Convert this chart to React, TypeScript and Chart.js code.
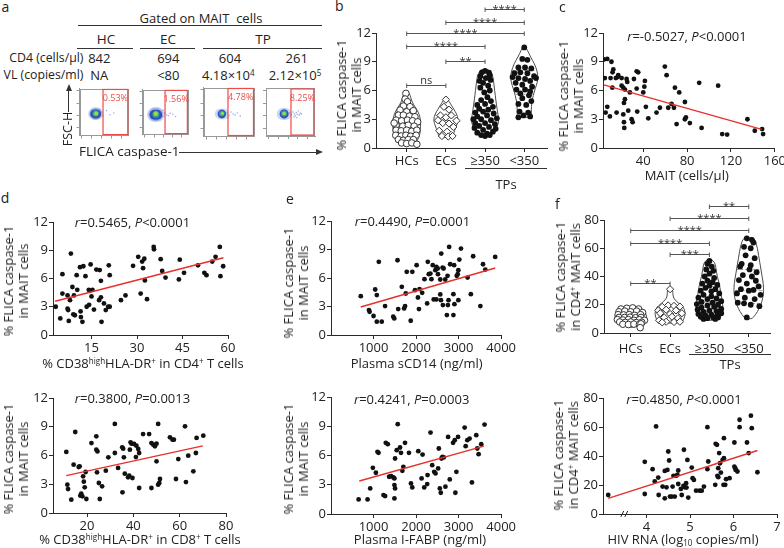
import React, { useEffect, useRef } from "react";
import { Chart, registerables } from "chart.js";

Chart.register(...registerables);

const FONT = "'Open Sans', 'Noto Sans', 'DejaVu Sans', sans-serif";
const INK = "#222222";
const AXIS = "#2b2b2b";
const RED = "#e8302a";

type Pt = [number, number];
type Bub = [number, number, number];

// ---------------- Panel a (flow plots) ----------------
const flowGroups = ["HC", "EC", "TP"];
const flowCD4 = ["842", "694", "604", "261"];
const flowVL = ["NA", "<80", "4.18×10^4", "2.12×10^5"];
const flowPercents = ["0.53%", "1.56%", "4.78%", "8.25%"];
const flowGates: number[][] = [
  [48, 98.5, 2, 98],
  [49, 97.5, 2, 98],
  [48, 98, 2, 98],
  [51, 97.5, 2, 98],
];
const flowHalo: Bub[][] = [
  [[30, 46, 6], [36, 46, 6], [33, 47, 6.5]],
  [[25, 44, 7], [33, 44, 7], [29, 45, 7.5]],
  [[33, 46, 5.5], [39, 46, 5.5]],
  [[34, 46, 6], [40, 46, 6]],
];
const flowBlue: Bub[][] = [
  [[31, 46, 4.5], [35, 46, 4.5]],
  [[26, 44, 5], [32, 44, 5]],
  [[36, 46, 4.2]],
  [[37, 46, 4.5]],
];
const flowTeal: Bub[][] = [[[33, 47, 3.2]], [[29, 45, 3.5]], [[36, 47, 2.8]], [[37, 47, 3]]];
const flowGreen: Bub[][] = [[[34, 47, 2]], [[29, 46, 2.2]], [[37, 47, 1.6]], [[37, 47, 1.8]]];
const flowSparse: Pt[][] = [
  [[44, 50], [48, 42], [55, 53], [62, 44], [70, 48], [40, 38], [42, 56]],
  [[40, 46], [44, 40], [48, 48], [52, 44], [56, 42], [60, 47], [66, 45], [72, 40], [45, 54]],
  [[46, 48], [50, 43], [54, 50], [58, 46], [62, 44], [48, 38], [66, 48], [72, 42]],
  [[48, 48], [52, 44], [55, 50], [58, 46], [60, 42], [62, 49], [64, 45], [66, 52], [68, 44], [70, 48], [57, 40], [63, 38], [72, 46]],
];
const flowYTicks = [16, 43, 68, 95];
const flowXTicks = [5, 25, 45, 65, 85];

// ---------------- Panel b (violin) ----------------
const violinCategories = ["HCs", "ECs", "≥350", "<350"];
const bHCs: Pt[] = [[-0.02,5.70],[-0.04,5.11],[0.02,4.83],[-0.085,4.38],[0.085,4.31],[-0.17,3.96],[0,3.78],[0.17,3.89],[-0.21,3.43],[-0.085,3.43],[0.07,3.33],[0.21,3.26],[-0.27,2.91],[-0.13,2.84],[0.02,2.91],[0.15,2.84],[0.28,2.73],[-0.27,2.38],[-0.10,2.28],[0.04,2.38],[0.19,2.28],[-0.27,1.86],[-0.14,1.79],[0,1.86],[0.13,1.75],[0.26,1.86],[-0.28,1.33],[-0.14,1.26],[-0.02,1.33],[0.10,1.23],[0.24,1.33],[-0.21,0.88],[-0.085,0.81],[0.04,0.88],[0.17,0.88],[-0.13,0.53],[0,0.46],[0.13,0.53],[0.26,0.39],[-0.32,2.60]];
const bECs: Pt[] = [[0,5.05],[-0.05,4.3],[0.08,4.0],[-0.14,3.4],[0.14,3.4],[0,3.2],[-0.2,2.9],[0.27,2.85],[-0.08,2.6],[0.08,2.55],[0.19,2.2],[-0.17,1.8],[0.03,1.7],[-0.1,1.25],[0.06,1.2],[0.17,1.25]];
const bTPhigh: Pt[] = [[0,8.05],[-0.08,7.9],[0.1,7.85],[-0.12,7.5],[0.12,7.6],[0.02,7.3],[-0.14,7.0],[0.14,7.1],[-0.05,6.8],[0.08,6.5],[-0.12,6.3],[0.12,6.0],[-0.02,5.8],[0.06,5.3],[-0.1,5.0],[0.15,4.9],[-0.2,4.5],[0,4.6],[0.2,4.3],[-0.15,4.1],[0.08,4.0],[-0.25,3.7],[-0.05,3.8],[0.22,3.6],[-0.2,3.3],[0.05,3.4],[0.3,3.1],[-0.3,3.0],[-0.1,3.0],[0.15,2.9],[-0.25,2.6],[0,2.6],[0.25,2.5],[-0.15,2.3],[0.1,2.2],[-0.27,2.1],[0.27,2.0],[-0.05,1.9],[0.2,1.7],[-0.2,1.6],[0.05,1.5],[-0.1,1.35],[0.12,1.35],[0,1.25]];
const bTPlow: Pt[] = [[0,10.5],[-0.05,9.3],[0.08,9.2],[-0.15,8.4],[0.02,8.4],[0.18,8.3],[-0.25,7.8],[-0.1,7.9],[0.08,7.8],[0.25,7.5],[-0.3,7.4],[-0.15,7.3],[0.02,7.2],[0.15,7.0],[0.3,7.3],[-0.22,6.8],[-0.05,6.6],[0.2,6.4],[-0.2,6.1],[0.02,6.1],[0.15,5.9],[-0.1,5.7],[0.12,5.5],[-0.05,5.2],[0.18,4.9],[-0.15,4.6],[0.05,4.5],[-0.12,3.8],[0.1,3.7],[-0.02,3.4],[0.15,3.3],[-0.15,3.2]];
// violin outlines: [value, half-width in category units]
const bProfiles: Pt[][] = [
  [[0.4,0.12],[0.6,0.24],[1.0,0.3],[1.5,0.34],[2.0,0.35],[2.5,0.355],[3.0,0.35],[3.5,0.32],[4.0,0.26],[4.5,0.18],[5.0,0.12],[5.5,0.09],[5.95,0.03]],
  [[1.1,0.18],[1.4,0.19],[1.8,0.22],[2.3,0.27],[2.8,0.31],[3.3,0.3],[3.8,0.24],[4.2,0.18],[4.6,0.12],[5.0,0.06],[5.15,0.02]],
  [[1.2,0.04],[1.3,0.12],[1.6,0.22],[2.2,0.31],[2.8,0.35],[3.5,0.33],[4.5,0.29],[5.5,0.26],[6.5,0.23],[7.5,0.2],[8.05,0.14],[8.2,0.04]],
  [[3.2,0.18],[3.3,0.18],[4.0,0.18],[4.7,0.19],[5.5,0.23],[6.2,0.28],[6.8,0.33],[7.4,0.35],[8.0,0.33],[8.8,0.26],[9.5,0.16],[10.2,0.08],[10.6,0.03]],
];
const bQuartiles: number[][] = [[1.3, 2.4, 3.5], [1.7, 2.85, 3.4], [2.5, 3.8, 6.5], [5.6, 7.2, 8.1]];
const bBrackets: [number, number, number, string][] = [
  [1, 2, 6.6, "ns"], [2, 3, 9.1, "**"], [1, 3, 10.6, "****"], [1, 4, 11.95, "****"], [2, 4, 13.2, "****"], [3, 4, 14.5, "****"],
];
const tick0to12 = [0, 3, 6, 9, 12];

// ---------------- Panel c ----------------
const cPoints: Pt[] = [[4.2,9.24],[7.2,9.3],[11,9.0],[12.7,8.2],[12,7.9],[5,7.3],[10.2,7.3],[15,7.3],[17.2,7.6],[20.3,7.3],[11.8,6.3],[20.3,6.5],[21.8,6.3],[24.8,7.2],[25.4,6.9],[23.3,6.1],[27.8,5.8],[31.5,7.2],[34,8.0],[35.4,7.9],[34,6.2],[41.5,7.0],[41,6.4],[40,5.8],[23.3,5.1],[22.4,4.7],[7.2,4.3],[5.7,3.7],[9.6,3.3],[15.7,3.7],[21.8,3.5],[22.4,2.7],[22.7,2.1],[26.3,3.9],[29.4,3.0],[30.3,2.7],[34.5,3.8],[42.4,4.3],[44.6,3.1],[52.1,3.7],[55.2,4.2],[59.7,8.5],[61.3,7.6],[62.8,4.2],[65.8,4.6],[68,4.2],[68.9,6.3],[70.4,2.5],[72.8,5.8],[78,4.8],[78.9,3.2],[78,3.0],[82.5,2.6],[91,6.8],[93.2,2.1],[108.3,6.5],[112,1.45],[116.5,1.4],[135,3.0],[141.7,1.8],[148.4,1.97],[149.3,1.45],[16.6,7.4]];
const cFit: Pt[] = [[4, 6.58], [148, 1.95]];
const cXTicks = [40, 80, 120, 160];

// ---------------- Panel d ----------------
const d1Points: Pt[] = [[3.2,3.0],[4.7,1.76],[5.4,6.46],[5.4,4.4],[7.1,4.2],[7.1,2.8],[7.3,2.65],[7.5,1.5],[7.9,3.7],[8.2,8.65],[8.7,5.1],[9.0,2.2],[9.5,2.1],[9.2,4.2],[10.3,4.8],[10.1,6.35],[11.2,7.2],[11.4,2.5],[11.5,1.9],[12.0,1.4],[12.3,7.3],[13.0,6.25],[13.4,3.0],[14.1,4.8],[14.2,3.2],[14.7,7.5],[14.4,4.7],[15.0,4.1],[15.3,4.8],[15.8,2.7],[16.6,6.95],[17.5,3.7],[17.7,6.9],[18.1,5.75],[18.1,4.0],[18.3,1.4],[19.1,3.35],[19.7,2.65],[20.7,7.4],[21.0,6.35],[20.5,3.0],[21.0,3.0],[24.7,3.7],[26.2,4.2],[28.7,7.35],[30.4,8.3],[31.2,4.4],[31.7,7.8],[32,7.1],[32.4,8.1],[32.6,5.8],[33.3,3.8],[35.5,9.35],[35.6,9.1],[37.8,8.05],[38.3,6.8],[39.4,6.1],[43.8,5.9],[44.1,8.0],[45.5,6.6],[50.1,7.4],[52.2,6.6],[52.9,6.35],[54.8,7.8],[55.9,8.3],[57.3,9.35],[57.5,6.25],[58.4,7.3]];
const d1Fit: Pt[] = [[3, 3.58], [58.5, 8.2]];
const d1XTicks = [15, 30, 45, 60];
const d2Points: Pt[] = [[11.05,6.37],[11.5,2.96],[11.8,2.5],[13.2,1.39],[14.2,5.04],[14.9,8.45],[16.4,4.8],[16.8,4.87],[17.1,1.81],[17.5,2.02],[18.0,1.74],[18.3,3.83],[18.6,3.27],[19.0,2.68],[19.4,4.28],[19.7,1.46],[21.9,7.3],[24.0,8.0],[24.0,6.61],[24.5,6.43],[24.3,4.24],[25.1,3.13],[26.5,2.78],[25.5,1.46],[28.1,4.42],[29.2,5.81],[32.0,9.29],[32.0,6.26],[33.4,4.7],[35.2,6.85],[35.6,6.71],[35.3,2.16],[35.9,5.81],[36.3,4.1],[37.7,3.72],[38.2,3.9],[38.5,6.61],[38.8,7.37],[39.2,7.23],[39.6,3.65],[40.3,7.2],[41.1,5.84],[41.3,7.03],[42.1,6.68],[42.5,6.26],[42.5,2.61],[44.2,8.24],[46.8,8.24],[47.8,7.3],[47.8,2.61],[48.6,7.13],[49.3,6.96],[50.0,7.23],[50.0,5.39],[50.7,9.29],[50.7,2.96],[51.2,3.13],[51.5,3.55],[55.8,7.9],[56.9,7.65],[57.5,7.65],[58.4,3.55],[59.4,5.63],[62.3,9.04],[62.7,3.23],[63.7,5.98],[65.9,4.35],[67.0,6.26],[67.3,7.83],[70.2,8.07]];
const d2Fit: Pt[] = [[11, 3.9], [70, 7.0]];
const d2XTicks = [20, 40, 60, 80];

// ---------------- Panel e ----------------
const e1Points: Pt[] = [[700,4.09],[892,2.62],[907,2.45],[1000,2.0],[1039,4.79],[1077,4.2],[1077,1.4],[1124,7.7],[1193,1.4],[1271,3.04],[1464,1.92],[1487,1.75],[1564,7.87],[1580,2.73],[1665,5.07],[1719,2.8],[1742,3.04],[1758,4.37],[1781,6.65],[1874,1.5],[1912,6.65],[1974,4.72],[2013,7.35],[2044,3.95],[2082,4.83],[2067,2.73],[2144,4.44],[2198,5.88],[2260,3.32],[2276,7.7],[2299,6.4],[2337,6.47],[2361,5.88],[2392,7.35],[2415,3.74],[2453,6.82],[2477,3.74],[2477,7.17],[2508,7.0],[2515,6.4],[2569,5.84],[2569,4.27],[2585,3.67],[2592,8.57],[2624,7.1],[2647,7.0],[2631,3.15],[2685,5.84],[2724,2.1],[2740,6.23],[2748,3.15],[2778,9.27],[2763,3.67],[2801,7.45],[2878,4.3],[2878,2.1],[2902,3.25],[2894,7.35],[2956,6.23],[2979,6.4],[2994,6.82],[2994,3.67],[3018,7.94],[3056,9.1],[3211,6.05],[3288,4.3],[3342,8.29],[3512,3.04],[3574,7.45],[3628,6.89],[3860,8.22]];
const e1Fit: Pt[] = [[700, 2.95], [3860, 7.05]];
const e2Points: Pt[] = [[649,1.5],[860,1.5],[922,2.62],[984,4.74],[1055,4.23],[1093,6.38],[1117,6.27],[1234,1.94],[1273,1.84],[1288,7.3],[1335,7.16],[1366,3.82],[1413,3.89],[1467,3.75],[1491,3.65],[1491,2.97],[1506,2.62],[1491,1.6],[1506,5.69],[1545,6.55],[1569,9.21],[1623,6.82],[1646,6.27],[1678,4.43],[1701,4.84],[1740,7.3],[1833,6.27],[1880,3.14],[1911,2.73],[2052,6.44],[2130,3.65],[2153,6.1],[2192,2.73],[2262,3.07],[2270,3.99],[2340,8.35],[2379,5.01],[2426,4.33],[2457,4.16],[2519,4.67],[2535,6.72],[2558,2.62],[2581,2.18],[2597,5.69],[2620,5.86],[2651,5.8],[2690,2.8],[2753,7.91],[2792,3.55],[2870,7.3],[2909,7.57],[2924,2.18],[2948,4.33],[2987,7.91],[3142,8.86],[3166,6.96],[3205,7.57],[3259,7.74],[3314,3.24],[3415,8.08],[3439,6.72],[3470,6.14],[3532,7.16],[3610,9.17]];
const e2Fit: Pt[] = [[665, 3.38], [3594, 6.96]];
const eXTicks = [1000, 2000, 3000, 4000];

// ---------------- Panel f ----------------
const fHCs: Pt[] = [[-0.25,17],[-0.1,17.5],[0.05,17.8],[0.2,17],[-0.3,15],[-0.15,15.5],[0,15],[0.15,15.5],[0.3,14.5],[-0.32,13],[-0.18,12.8],[-0.04,13],[0.1,12.5],[0.25,13],[-0.3,11],[-0.16,11],[-0.02,11.2],[0.12,10.8],[0.26,11],[-0.34,9.5],[-0.2,9.2],[-0.06,9.5],[0.08,9],[0.22,9.4],[0.35,9],[-0.28,7.8],[-0.14,7.5],[0,7.8],[0.14,7.4],[0.28,7.6],[-0.2,6.2],[-0.06,6],[0.08,6.3],[0.22,6],[0.26,6.5],[0.24,3.8]];
const fECs: Pt[] = [[0,31],[-0.05,19.5],[0.1,19.2],[0.25,18.7],[-0.2,18.5],[-0.3,16],[-0.1,16.5],[0.15,16],[0.3,14],[-0.25,14],[0,13.5],[-0.15,11],[0.05,11.5],[0.2,10.5],[-0.28,9],[-0.1,8],[0.1,7.8],[0.25,8],[-0.2,7.5]];
const fTPhigh: Pt[] = [[0,51],[-0.05,49],[0.06,47],[-0.08,45],[0.1,44],[0,42],[-0.12,40],[0.12,39],[-0.05,37],[0.08,36],[-0.18,35],[0.2,34],[0,33.5],[-0.1,32],[0.15,31],[-0.22,30],[0.05,29.5],[0.25,28],[-0.15,27],[0.05,26],[-0.28,25],[0.18,24.5],[-0.05,24],[0.3,22.5],[-0.2,22],[0.08,21.5],[-0.32,20.5],[0.22,20],[-0.05,19.5],[0.12,18.5],[-0.2,18],[0.3,17],[-0.3,16.5],[0,16],[0.18,15.5],[-0.15,15],[0.3,14],[-0.28,13.5],[0.05,13],[0.2,12.5],[-0.1,12.5],[-0.22,11.5],[0.1,11],[0.22,11],[-0.05,10.5],[0.15,10],[-0.15,10]];
const fTPlow: Pt[] = [[-0.05,67],[0.08,66],[0.12,64],[-0.12,61],[0.05,60],[-0.08,55],[0.15,53],[-0.18,49],[0.05,48],[-0.22,47],[0.02,45],[0.2,43],[-0.15,41],[0.08,40],[-0.25,37.5],[0.18,37],[-0.05,35],[0.25,33],[-0.2,31],[0,30],[0.12,30.5],[-0.3,28],[0.3,27],[-0.1,25],[0.15,24],[-0.28,21.5],[-0.12,21],[0.05,20],[0.27,19],[-0.05,11]];
const fProfiles: Pt[][] = [
  [[4.0,0.06],[5.5,0.24],[7,0.36],[9,0.41],[12,0.4],[15,0.37],[17,0.31],[18.2,0.12]],
  [[7,0.3],[9,0.33],[12,0.38],[15,0.38],[18,0.35],[21,0.22],[24,0.1],[27,0.07],[30,0.07],[31.5,0.04]],
  [[9,0.1],[10,0.2],[12,0.3],[15,0.34],[20,0.34],[25,0.31],[30,0.28],[35,0.25],[40,0.2],[45,0.17],[50,0.14],[52,0.05]],
  [[10,0.06],[11,0.12],[15,0.22],[20,0.31],[25,0.36],[30,0.38],[35,0.37],[40,0.34],[45,0.31],[50,0.28],[55,0.25],[60,0.22],[65,0.17],[67.5,0.12]],
];
const fQuartiles: number[][] = [[7.5, 10, 14], [9, 15, 18], [15, 22, 33], [21, 30, 45]];
const fBrackets: [number, number, number, string][] = [
  [1, 2, 35.6, "**"], [2, 3, 55.7, "***"], [1, 3, 63.9, "****"], [1, 4, 72.9, "****"], [2, 4, 81.2, "****"], [3, 4, 90.1, "**"],
];
const tick0to80 = [0, 20, 40, 60, 80];
const f2Points: Pt[] = [[3.12,13.1],[3.96,13.8],[3.96,36.0],[4.14,30.9],[4.19,22.4],[4.22,60.4],[4.27,25.1],[4.28,13.1],[4.37,18.9],[4.42,29.7],[4.42,10.8],[4.46,18.4],[4.48,30.4],[4.5,43.1],[4.52,36.9],[4.54,12.0],[4.58,12.0],[4.6,18.9],[4.62,26.3],[4.65,12.0],[4.68,26.3],[4.71,27.0],[4.73,30.0],[4.73,20.7],[4.79,17.3],[4.81,13.1],[4.85,19.4],[4.86,44.3],[4.88,18.4],[4.91,21.2],[4.92,18.2],[4.94,37.3],[4.96,11.3],[5.04,32.0],[5.06,24.7],[5.09,23.5],[5.14,16.1],[5.22,16.1],[5.27,16.1],[5.32,18.9],[5.4,59.9],[5.4,30.9],[5.42,36.2],[5.58,20.1],[5.59,48.4],[5.62,47.7],[5.63,26.3],[5.65,31.6],[5.65,25.4],[5.67,42.0],[5.69,35.0],[5.71,28.6],[5.75,37.3],[5.77,20.1],[5.78,52.3],[5.78,38.5],[5.81,20.1],[5.83,24.0],[5.91,24.7],[6.02,49.3],[6.02,32.7],[6.04,31.6],[6.05,30.4],[6.09,29.3],[6.14,65.0],[6.14,59.9],[6.31,49.3],[6.35,42.0],[6.4,67.8],[6.42,59.2],[6.55,28.8]];
const f2Fit: Pt[] = [[3.12, 10.8], [6.55, 43.8]];
const f2XTicks = [4, 5, 6, 7];
const f2BreakAt = 3.5;

// ---------------- helpers ----------------
type Frame = { left: number; top: number; width: number; height: number; padTop: number; padRight: number; yW: number; xH: number };
function frame(L: number, R: number, T: number, B: number, padTop = 12, padRight = 12, yW = 44, xH = 26): Frame {
  const l = Math.round(L), t = Math.round(T), r = Math.round(R), b = Math.round(B);
  return { left: l - yW, top: t - padTop, width: r - l + yW + padRight, height: b - t + padTop + xH, padTop, padRight, yW, xH };
}

function linAxis(o: { min: number; max: number; ticks: number[]; isX: boolean; size: number; labels?: string[]; pad?: number; color?: string; show?: boolean; tickLen?: number; fontSize?: number }) {
  const color = o.color || AXIS;
  return {
    type: "linear",
    min: o.min,
    max: o.max,
    afterBuildTicks: (s: any) => { s.ticks = o.ticks.map((v) => ({ value: v })); },
    afterFit: (s: any) => { if (o.isX) s.height = o.size; else s.width = o.size; },
    grid: { display: true, drawOnChartArea: false, drawTicks: true, tickLength: o.tickLen ?? 4, color, lineWidth: 1 },
    border: { display: true, color, width: 1 },
    ticks: {
      display: o.show !== false,
      color: INK,
      font: { family: FONT, size: o.fontSize || 13 },
      padding: o.pad ?? 1,
      autoSkip: false,
      maxRotation: 0,
      minRotation: 0,
      callback: (v: number, i: number) => (o.labels ? o.labels[i] : String(v)),
    },
  };
}

function baseOptions(f: Frame, x: any, y: any) {
  return {
    responsive: false,
    animation: false,
    devicePixelRatio: 1,
    events: [],
    layout: { padding: { top: f.padTop, right: f.padRight, left: 0, bottom: 0 } },
    plugins: { legend: { display: false }, tooltip: { enabled: false } },
    scales: { x, y },
  };
}

function scatterConfig(f: Frame, pts: Pt[], fit: Pt[], xMin: number, xMax: number, xTicks: number[], yMax: number, yTicks: number[], extra: any[] = []) {
  return {
    type: "scatter",
    data: {
      datasets: [
        { data: fit.map(([x, y]) => ({ x, y })), showLine: true, borderColor: RED, borderWidth: 1.4, pointRadius: 0 },
        { data: pts.map(([x, y]) => ({ x, y })), pointRadius: 2.4, pointBackgroundColor: "#111", pointBorderWidth: 0, showLine: false },
      ],
    },
    options: baseOptions(
      f,
      linAxis({ min: xMin, max: xMax, ticks: xTicks, isX: true, size: f.xH }),
      linAxis({ min: 0, max: yMax, ticks: yTicks, isX: false, size: f.yW })
    ),
    plugins: extra,
  };
}

function interp(prof: Pt[], v: number) {
  if (v <= prof[0][0]) return prof[0][1];
  for (let i = 1; i < prof.length; i++) {
    if (v <= prof[i][0]) {
      const [a, wa] = prof[i - 1], [b, wb] = prof[i];
      return wa + ((v - a) / (b - a)) * (wb - wa);
    }
  }
  return prof[prof.length - 1][1];
}

function violinPlugin(profiles: Pt[][], quarts: number[][]) {
  return {
    id: "violins",
    beforeDatasetsDraw(chart: any) {
      const xs = chart.scales.x, ys = chart.scales.y, ctx = chart.ctx;
      const unit = xs.getPixelForValue(1) - xs.getPixelForValue(0);
      profiles.forEach((prof, i) => {
        const cx = xs.getPixelForValue(i + 1);
        const right = prof.map(([v, w]) => [cx + w * unit, ys.getPixelForValue(v)]);
        const left = prof.slice().reverse().map(([v, w]) => [cx - w * unit, ys.getPixelForValue(v)]);
        const p = [...right, ...left];
        const n = p.length;
        const mid = (a: number[], b: number[]) => [(a[0] + b[0]) / 2, (a[1] + b[1]) / 2];
        ctx.save();
        ctx.beginPath();
        const s = mid(p[n - 1], p[0]);
        ctx.moveTo(s[0], s[1]);
        for (let k = 0; k < n; k++) {
          const m = mid(p[k], p[(k + 1) % n]);
          ctx.quadraticCurveTo(p[k][0], p[k][1], m[0], m[1]);
        }
        ctx.closePath();
        ctx.fillStyle = "#ffffff";
        ctx.fill();
        ctx.strokeStyle = "#4a4a4a";
        ctx.lineWidth = 1;
        ctx.stroke();
        quarts[i].forEach((q, k) => {
          const w = interp(prof, q) * unit * 0.95;
          const y = ys.getPixelForValue(q);
          ctx.setLineDash(k === 1 ? [4, 2] : [2, 2]);
          ctx.strokeStyle = "#9a9a9a";
          ctx.beginPath();
          ctx.moveTo(cx - w, y);
          ctx.lineTo(cx + w, y);
          ctx.stroke();
        });
        ctx.restore();
      });
    },
  };
}

function bracketPlugin(brackets: [number, number, number, string][]) {
  return {
    id: "brackets",
    afterDatasetsDraw(chart: any) {
      const xs = chart.scales.x, ys = chart.scales.y, ctx = chart.ctx;
      ctx.save();
      ctx.strokeStyle = "#555";
      ctx.fillStyle = "#333";
      ctx.lineWidth = 1;
      brackets.forEach(([a, b, v, label]) => {
        const x1 = xs.getPixelForValue(a), x2 = xs.getPixelForValue(b);
        const y = Math.round(ys.getPixelForValue(v)) + 0.5;
        ctx.beginPath();
        ctx.moveTo(x1, y); ctx.lineTo(x2, y);
        ctx.moveTo(x1, y - 2); ctx.lineTo(x1, y + 2.5);
        ctx.moveTo(x2, y - 2); ctx.lineTo(x2, y + 2.5);
        ctx.stroke();
        ctx.textAlign = "center";
        ctx.textBaseline = "alphabetic";
        ctx.font = `11px ${FONT}`;
        if (label === "ns") ctx.fillText(label, (x1 + x2) / 2, y - 2);
        else ctx.fillText(label, (x1 + x2) / 2, y + 3);
      });
      ctx.restore();
    },
  };
}

function violinConfig(f: Frame, groups: Pt[][], styles: any[], profiles: Pt[][], quarts: number[][], brackets: any[], xMin: number, xMax: number, yMax: number, yTicks: number[], xPad: number) {
  return {
    type: "scatter",
    data: {
      datasets: groups.map((g, i) => ({
        data: g.map(([j, v]) => ({ x: i + 1 + j, y: v })),
        showLine: false,
        ...styles[i],
      })),
    },
    options: baseOptions(
      f,
      linAxis({ min: xMin, max: xMax, ticks: [1, 2, 3, 4], labels: violinCategories, isX: true, size: f.xH, pad: xPad }),
      linAxis({ min: 0, max: yMax, ticks: yTicks, isX: false, size: f.yW })
    ),
    plugins: [violinPlugin(profiles, quarts), bracketPlugin(brackets)],
  };
}

const openCircle = { pointStyle: "circle", pointRadius: 3.3, pointBackgroundColor: "#fff", pointBorderColor: "#333", pointBorderWidth: 1 };
const openDiamond = { pointStyle: "rectRot", pointRadius: 3.6, pointBackgroundColor: "#fff", pointBorderColor: "#333", pointBorderWidth: 1 };
const solidDot = { pointStyle: "circle", pointRadius: 2.9, pointBackgroundColor: "#111", pointBorderWidth: 0 };

function flowConfig(f: Frame, i: number) {
  const bub = (arr: Bub[]) => arr.map(([x, y, r]) => ({ x, y, r }));
  return {
    type: "bubble",
    data: {
      datasets: [
        { data: bub(flowGreen[i]), backgroundColor: "#a8d640", borderWidth: 0 },
        { data: bub(flowTeal[i]), backgroundColor: "#2fa59a", borderWidth: 0 },
        { data: bub(flowBlue[i]), backgroundColor: "#2f4fbf", borderWidth: 0 },
        { data: bub(flowHalo[i]), backgroundColor: "rgba(110,140,215,0.35)", borderWidth: 0 },
        { data: flowSparse[i].map(([x, y]) => ({ x, y, r: 0.8 })), backgroundColor: "rgba(90,110,200,0.55)", borderWidth: 0 },
      ],
    },
    options: baseOptions(
      f,
      linAxis({ min: 0, max: 100, ticks: flowXTicks, isX: true, size: f.xH, color: "#999", show: false, tickLen: 3 }),
      linAxis({ min: 0, max: 100, ticks: flowYTicks, isX: false, size: f.yW, color: "#999", show: false, tickLen: 3 })
    ),
    plugins: [
      {
        id: "gate",
        afterDatasetsDraw(chart: any) {
          const xs = chart.scales.x, ys = chart.scales.y, ctx = chart.ctx, ca = chart.chartArea;
          ctx.save();
          ctx.strokeStyle = "#999";
          ctx.lineWidth = 1;
          ctx.strokeRect(Math.round(ca.left) + 0.5, Math.round(ca.top) + 0.5, Math.round(ca.right - ca.left) - 1, Math.round(ca.bottom - ca.top) - 1);
          const [x0, x1, y0, y1] = flowGates[i];
          const px0 = xs.getPixelForValue(x0), px1 = xs.getPixelForValue(x1);
          const py0 = ys.getPixelForValue(y1), py1 = ys.getPixelForValue(y0);
          ctx.strokeStyle = "#ee4b47";
          ctx.lineWidth = 1.2;
          ctx.strokeRect(px0, py0, px1 - px0, py1 - py0);
          ctx.fillStyle = "#ee4b47";
          ctx.font = `9px ${FONT}`;
          ctx.textAlign = "center";
          ctx.textBaseline = "middle";
          ctx.fillText(flowPercents[i], (px0 + px1) / 2, py0 + 9);
          ctx.restore();
        },
      },
    ],
  };
}

function breakPlugin(at: number) {
  return {
    id: "axisBreak",
    afterDraw(chart: any) {
      const ctx = chart.ctx;
      const x = chart.scales.x.getPixelForValue(at);
      const y = chart.chartArea.bottom;
      ctx.save();
      ctx.strokeStyle = AXIS;
      ctx.lineWidth = 1;
      ctx.beginPath();
      ctx.moveTo(x - 4, y + 3); ctx.lineTo(x - 1, y - 3);
      ctx.moveTo(x, y + 3); ctx.lineTo(x + 3, y - 3);
      ctx.stroke();
      ctx.restore();
    },
  };
}

function ChartBox({ f, make }: { f: Frame; make: (f: Frame) => any }) {
  const ref = useRef<HTMLCanvasElement>(null);
  useEffect(() => {
    const chart = new Chart(ref.current as HTMLCanvasElement, make(f));
    return () => chart.destroy();
  }, []);
  return (
    <canvas
      ref={ref}
      width={f.width}
      height={f.height}
      style={{ position: "absolute", left: f.left, top: f.top, width: f.width, height: f.height }}
    />
  );
}

function Txt({ x, y, children, size = 13, anchor = "center", rot = 0, color = INK, lh = 1.15 }: any) {
  const tx = anchor === "left" ? "0" : anchor === "right" ? "-100%" : "-50%";
  return (
    <div
      style={{
        position: "absolute",
        left: x,
        top: y,
        transform: `translate(${tx},-50%) rotate(${rot}deg)`,
        fontFamily: FONT,
        fontSize: size,
        color,
        whiteSpace: "nowrap",
        lineHeight: lh,
        textAlign: "center",
      }}
    >
      {children}
    </div>
  );
}

function HLine({ x1, x2, y, color = "#333" }: any) {
  return <div style={{ position: "absolute", left: x1, top: y, width: x2 - x1, height: 0, borderTop: `1px solid ${color}` }} />;
}

const sup = (t: string) => <span style={{ fontSize: "0.62em", verticalAlign: "0.5em", lineHeight: 0 }}>{t}</span>;
const sub = (t: string) => <span style={{ fontSize: "0.62em", verticalAlign: "-0.25em", lineHeight: 0 }}>{t}</span>;
const powText = (s: string) => {
  const [a, b] = s.split("^");
  return b ? <>{a}{sup(b)}</> : <>{a}</>;
};

function YTitle({ x, y, l1, l2 }: any) {
  return (
    <Txt x={x} y={y} rot={-90} lh="15px" size={13}>
      {l1}
      <br />
      {l2}
    </Txt>
  );
}

function RText({ x, y, r, p }: any) {
  return (
    <Txt x={x} y={y} size={13}>
      <i>r</i>={r}, <i>P</i>{p}
    </Txt>
  );
}

// geometry (page pixels)
const flowBoxes: number[][] = [[77.7, 132.7], [140, 194.3], [202.7, 257.7], [265.3, 319.3]];
const fB = frame(376, 547, 33.3, 148, 31, 12);
const fC = frame(603, 775, 33.3, 148, 12, 12);
const fD1 = frame(53.3, 228.3, 221.7, 335, 12, 12);
const fD2 = frame(53.3, 226, 398.3, 513.3, 12, 12);
const fE1 = frame(331, 503.3, 220.7, 335, 12, 14);
const fE2 = frame(331, 503.3, 396.7, 514, 12, 14);
const fF1 = frame(604, 770, 220, 333, 24, 14);
const fF2 = frame(603, 776.7, 398.3, 514, 12, 8);

export default function App() {
  return (
    <div style={{ position: "fixed", left: 0, top: 0, width: 784, height: 548, background: "#fff", overflow: "hidden" }}>
      {/* ---------- panel a ---------- */}
      <Txt x={5.5} y={7} size={14}>a</Txt>
      <Txt x={201} y={18} size={13}>Gated on MAIT&nbsp; cells</Txt>
      <HLine x1={78} x2={322} y={25} />
      <Txt x={106} y={40} size={13.5}>{flowGroups[0]}</Txt>
      <Txt x={168} y={40} size={13.5}>{flowGroups[1]}</Txt>
      <Txt x={263} y={40} size={13.5}>{flowGroups[2]}</Txt>
      <HLine x1={77} x2={133} y={48} />
      <HLine x1={140} x2={195} y={48} />
      <HLine x1={203} x2={322} y={48} />
      <Txt x={83.5} y={58.3} size={12.3} anchor="right">CD4 (cells/µl)</Txt>
      <Txt x={83.5} y={75} size={12.3} anchor="right">VL (copies/ml)</Txt>
      {[99.3, 168.3, 230, 296.7].map((x, i) => (
        <Txt key={"cd4" + i} x={x} y={58.3} size={13}>{flowCD4[i]}</Txt>
      ))}
      {[99.3, 168.3, 228.3, 295].map((x, i) => (
        <Txt key={"vl" + i} x={x} y={75} size={13}>{powText(flowVL[i])}</Txt>
      ))}
      {flowBoxes.map(([L, R], i) => (
        <ChartBox key={"flow" + i} f={frame(L, R, 84, 136.7, 2, 2, 5, 5)} make={(f) => flowConfig(f, i)} />
      ))}
      <Txt x={68.3} y={128.5} size={12.5} rot={-90}>FSC-H</Txt>
      <div style={{ position: "absolute", left: 68, top: 90, width: 0, height: 22, borderLeft: "1px solid #333" }} />
      <div style={{ position: "absolute", left: 65.5, top: 84, width: 0, height: 0, borderLeft: "3px solid transparent", borderRight: "3px solid transparent", borderBottom: "7px solid #333" }} />
      <Txt x={79} y={151.7} size={13.5} anchor="left">FLICA caspase-1</Txt>
      <HLine x1={179} x2={318} y={151.5} />
      <div style={{ position: "absolute", left: 316, top: 149, width: 0, height: 0, borderTop: "3px solid transparent", borderBottom: "3px solid transparent", borderLeft: "7px solid #333" }} />

      {/* ---------- panel b ---------- */}
      <Txt x={339.3} y={6} size={14}>b</Txt>
      <ChartBox
        f={fB}
        make={(f) =>
          violinConfig(f, [bHCs, bECs, bTPhigh, bTPlow], [openCircle, openDiamond, solidDot, solidDot], bProfiles, bQuartiles, bBrackets, 0.217, 4.58, 12, tick0to12, 1)
        }
      />
      <YTitle x={348.5} y={95} l1="% FLICA caspase-1" l2="in MAIT cells" />
      <HLine x1={465} x2={547} y={168} />
      <Txt x={506} y={184} size={13}>TPs</Txt>

      {/* ---------- panel c ---------- */}
      <Txt x={562.3} y={7.3} size={14}>c</Txt>
      <ChartBox f={fC} make={(f) => scatterConfig(f, cPoints, cFit, 3.3, 160, cXTicks, 12, tick0to12)} />
      <YTitle x={571} y={96} l1="% FLICA caspase-1" l2="in MAIT cells" />
      <Txt x={686.7} y={175} size={13}>MAIT (cells/µl)</Txt>
      <RText x={687} y={36} r="-0.5027" p="<0.0001" />

      {/* ---------- panel d ---------- */}
      <Txt x={5} y={198.3} size={14}>d</Txt>
      <ChartBox f={fD1} make={(f) => scatterConfig(f, d1Points, d1Fit, 2.3, 60, d1XTicks, 12, tick0to12)} />
      <YTitle x={15.8} y={281} l1="% FLICA caspase-1" l2="in MAIT cells" />
      <Txt x={143} y={363.3} size={13}>% CD38{sup("high")}HLA-DR{sup("+")} in CD4{sup("+")} T cells</Txt>
      <RText x={132.5} y={221.7} r="0.5465" p="<0.0001" />
      <ChartBox f={fD2} make={(f) => scatterConfig(f, d2Points, d2Fit, 5.3, 80, d2XTicks, 12, tick0to12)} />
      <YTitle x={15.8} y={459} l1="% FLICA caspase-1" l2="in MAIT cells" />
      <Txt x={140} y={539.3} size={13}>% CD38{sup("high")}HLA-DR{sup("+")} in CD8{sup("+")} T cells</Txt>
      <RText x={132.5} y={398.3} r="0.3800" p="=0.0013" />

      {/* ---------- panel e ---------- */}
      <Txt x={290} y={199.3} size={14}>e</Txt>
      <ChartBox f={fE1} make={(f) => scatterConfig(f, e1Points, e1Fit, 0, 4000, eXTicks, 12, tick0to12)} />
      <YTitle x={295.8} y={283} l1="% FLICA caspase-1" l2="in MAIT cells" />
      <Txt x={416.7} y={362.7} size={13}>Plasma sCD14 (ng/ml)</Txt>
      <RText x={412.5} y={220.7} r="0.4490" p="=0.0001" />
      <ChartBox f={fE2} make={(f) => scatterConfig(f, e2Points, e2Fit, 0, 4000, eXTicks, 12, tick0to12)} />
      <YTitle x={295.8} y={459} l1="% FLICA caspase-1" l2="in MAIT cells" />
      <Txt x={420} y={539.3} size={13}>Plasma I-FABP (ng/ml)</Txt>
      <RText x={411.7} y={399.3} r="0.4241" p="=0.0003" />

      {/* ---------- panel f ---------- */}
      <Txt x={557.3} y={204} size={14}>f</Txt>
      <ChartBox
        f={fF1}
        make={(f) =>
          violinConfig(f, [fHCs, fECs, fTPhigh, fTPlow], [openCircle, openDiamond, solidDot, solidDot], fProfiles, fQuartiles, fBrackets, 0.32, 4.54, 80, tick0to80, 4)
        }
      />
      <YTitle x={567.5} y={277} l1="% FLICA caspase-1" l2={<>in CD4{sup("+")} MAIT cells</>} />
      <HLine x1={689} x2={771} y={354.3} />
      <Txt x={730} y={363.5} size={13}>TPs</Txt>
      <ChartBox f={fF2} make={(f) => scatterConfig(f, f2Points, f2Fit, 3, 7, f2XTicks, 80, tick0to80, [breakPlugin(f2BreakAt)])} />
      <YTitle x={565.8} y={455} l1="% FLICA caspase-1" l2={<>in CD4{sup("+")} MAIT cells</>} />
      <Txt x={683} y={539.3} size={13}>HIV RNA (log{sub("10")} copies/ml)</Txt>
      <RText x={684} y={399.3} r="0.4850" p="<0.0001" />
    </div>
  );
}
